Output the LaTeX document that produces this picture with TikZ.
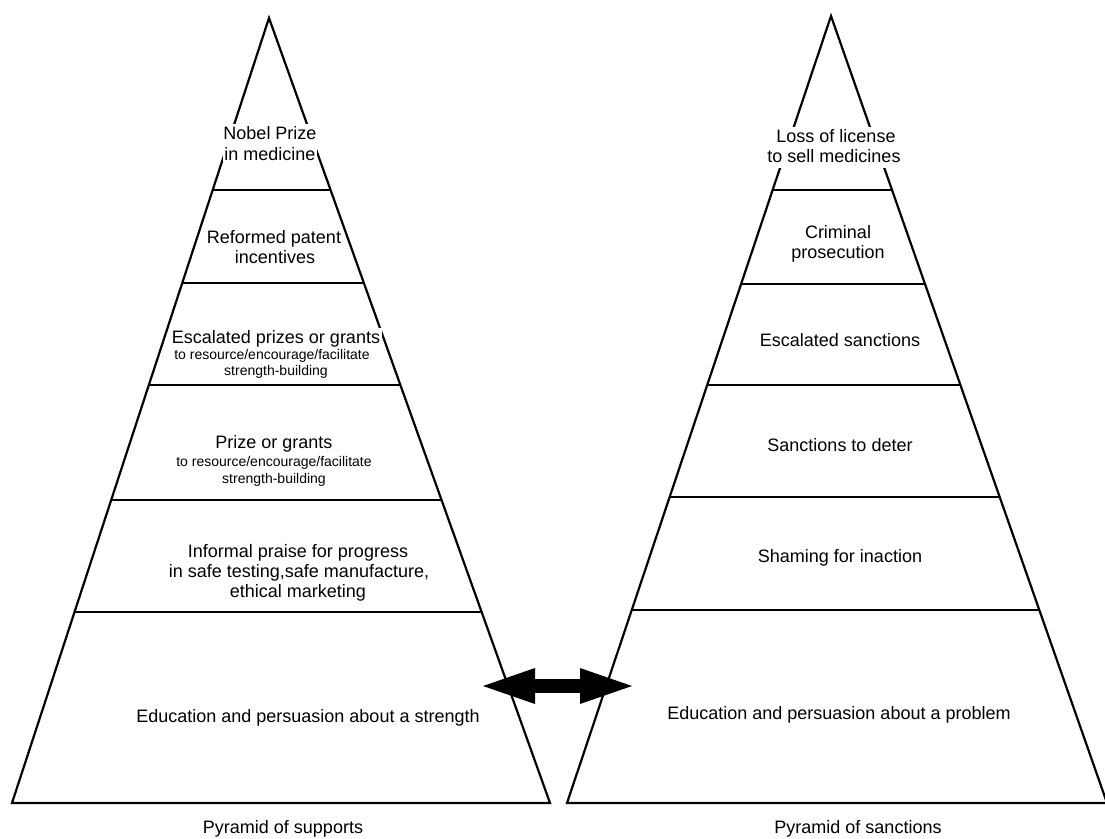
\documentclass[tikz,border=0pt]{standalone}
\usepackage{fontspec}
\setmainfont{Liberation Sans}
\usetikzlibrary{calc,arrows.meta}
\tikzset{
  edge/.style={line width=2.2pt, line join=miter},
  lbl/.style={font=\fontsize{18}{21}\selectfont, fill=white, inner xsep=1.5pt, inner ysep=1.5pt, text height=13.5pt, text depth=4.5pt, anchor=base},
  sml/.style={font=\fontsize{14}{16}\selectfont, fill=white, inner xsep=1.5pt, inner ysep=1pt, text height=10.5pt, text depth=3.5pt, anchor=base},
  bigarrow/.style={line width=14pt, {Triangle[length=52pt,width=36pt,line width=0pt]}-{Triangle[length=52pt,width=36pt,line width=0pt]}}
}
\begin{document}
\begin{tikzpicture}[x=1pt,y=-1pt]
\fill[white] (0,0) rectangle (1105,838);
\useasboundingbox (0,0) rectangle (1105,838);
% left pyramid
\coordinate (LA) at (269,18);
\coordinate (LL) at (12,803);
\coordinate (LR) at (550,803);
\draw[edge] (LL) -- (LA) -- (LR) -- cycle;
\foreach \yy in {190,283,385,500,612}{
  \draw[edge] ($(LA)!{(\yy-18)/785}!(LL)$) -- ($(LA)!{(\yy-18)/785}!(LR)$);
}
% right pyramid
\coordinate (RA) at (831,16);
\coordinate (RL) at (567,803);
\coordinate (RR) at (1107,803);
\draw[edge] (RL) -- (RA) -- (RR) -- cycle;
\foreach \yy in {190,284,385,497,610}{
  \draw[edge] ($(RA)!{(\yy-16)/787}!(RL)$) -- ($(RA)!{(\yy-16)/787}!(RR)$);
}
% left labels
\node[lbl] (l1a) at (270,139) {Nobel Prize};
\node[lbl] (l1b) at (270,160) {in medicine};
\node[lbl] (l2a) at (274,243) {Reformed patent};
\node[lbl] (l2b) at (275,263) {incentives};
\node[lbl] (l3a) at (276,343) {Escalated prizes or grants};
\node[sml] (l3b) at (272,359) {to resource/encourage/facilitate};
\node[sml] (l3c) at (276,375) {strength-building};
\node[lbl] (l4a) at (274,448) {Prize or grants};
\node[sml] (l4b) at (274,466) {to resource/encourage/facilitate};
\node[sml] (l4c) at (274,483) {strength-building};
\node[lbl] (l5a) at (298,557) {Informal praise for progress};
\node[lbl] (l5b) at (299,577) {in safe testing,safe manufacture,};
\node[lbl] (l5c) at (298,597) {ethical marketing};
\node[lbl] (l6) at (308,722) {Education and persuasion about a strength};
\node[lbl,fill=none] (lt) at (283,833) {Pyramid of supports};
% right labels
\node[lbl] (r1a) at (836,142) {Loss of license};
\node[lbl] (r1b) at (834,162) {to sell medicines};
\node[lbl] (r2a) at (838,238) {Criminal};
\node[lbl] (r2b) at (838,258) {prosecution};
\node[lbl] (r3) at (840,346) {Escalated sanctions};
\node[lbl] (r4) at (840,451) {Sanctions to deter};
\node[lbl] (r5) at (840,562) {Shaming for inaction};
\node[lbl] (r6) at (839,719) {Education and persuasion about a problem};
\node[lbl,fill=none] (rt) at (858,833) {Pyramid of sanctions};
% double arrow
\coordinate (aL) at (483,686);
\coordinate (aR) at (632,686);
\draw[bigarrow] (aL) -- (aR);
\end{tikzpicture}
\end{document}
